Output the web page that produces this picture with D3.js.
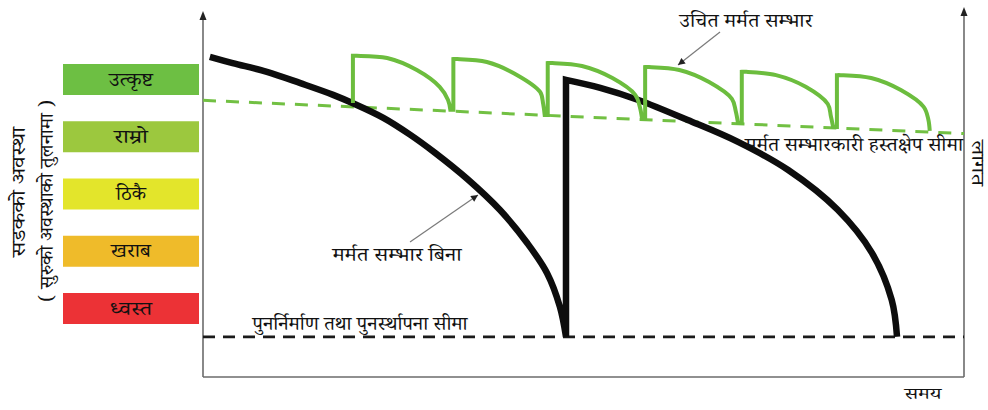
<!DOCTYPE html>
<html>
<head>
<meta charset="utf-8">
<script src="https://cdn.jsdelivr.net/npm/d3@7"></script>
<style>
  html, body { margin: 0; padding: 0; background: #ffffff; }
  svg { display: block; font-family: "Noto Serif Devanagari", "Noto Sans Devanagari", "Lohit Devanagari", "FreeSerif", "Noto Sans", sans-serif; }
</style>
</head>
<body>
<div id="grafica"></div>
<script>
// condition levels (legend), top to bottom
const niveles = ["उत्कृष्ट", "राम्रो", "ठिकै", "खराब", "ध्वस्त"];
const coloresNivel = ["#6dbf43", "#9cc83e", "#e3e52b", "#efbb2a", "#ec3236"];

// road condition without maintenance (time 0-100, condition 0-100)
const sinMantenimiento1 = [
  [0.9, 87.7], [3.9, 86.0], [8.4, 83.6], [12.8, 80.5], [17.1, 77.3], [19.7, 75.0],
  [23.7, 71.0], [27.2, 66.4], [30.5, 61.4], [34.7, 54.3], [39.0, 45.8], [42.6, 36.7],
  [45.2, 28.5], [46.9, 19.2], [47.7, 11.0]
];
// after reconstruction
const sinMantenimiento2 = [
  [47.7, 81.4], [52.2, 79.2], [57.2, 75.9], [63.7, 70.4], [70.3, 64.4], [76.9, 56.7],
  [83.4, 45.8], [87.9, 34.0], [90.5, 21.1], [91.2, 11.0]
];

// proper maintenance: each tooth = [start base, top, ... decay ... end]
const conMantenimiento = [
  [[19.7, 75.1], [19.7, 88.0], [20.2, 88.0], [24.2, 87.4], [28.1, 84.1], [31.1, 79.5], [32.2, 75.9], [32.5, 73.2]],
  [[32.9, 73.2], [32.9, 87.1], [33.4, 87.1], [37.3, 86.3], [41.3, 82.7], [44.3, 78.1], [44.7, 74.8], [44.9, 71.8]],
  [[45.3, 71.8], [45.3, 86.0], [45.9, 86.0], [49.8, 85.2], [53.8, 81.9], [56.8, 77.3], [57.4, 74.0], [57.7, 70.7]],
  [[58.1, 70.7], [58.1, 84.9], [58.6, 84.9], [62.6, 84.1], [66.5, 80.8], [69.5, 76.2], [70.0, 72.9], [70.3, 69.6]],
  [[70.8, 69.6], [70.8, 83.6], [71.4, 83.6], [75.3, 82.7], [79.2, 79.5], [82.1, 74.8], [82.5, 71.5], [82.8, 68.5]],
  [[83.3, 68.5], [83.3, 82.7], [83.8, 82.7], [87.8, 81.9], [91.7, 78.6], [94.7, 74.0], [95.3, 70.7], [95.5, 67.4]]
];

// thresholds
const limiteMantenimiento = [[0, 75.8], [100, 66.7]];
const limiteReconstruccion = [[0, 11.0], [100, 11.0]];

const W = 988, H = 410;
const svg = d3.select("#grafica").append("svg")
  .attr("width", W).attr("height", H);

const x = d3.scaleLinear().domain([0, 100]).range([203, 964]);
const y = d3.scaleLinear().domain([0, 100]).range([377, 12]);

// arrow marker for the notes
svg.append("defs").append("marker").attr("id", "flechaNota")
  .attr("viewBox", "0 0 10 10").attr("refX", 10).attr("refY", 5)
  .attr("markerWidth", 9).attr("markerHeight", 7).attr("orient", "auto")
  .attr("markerUnits", "userSpaceOnUse")
  .append("path").attr("d", "M0,0 L10,5 L0,10 Z").attr("fill", "#222");

// axes (plain lines, no ticks) with arrow heads
const ejes = svg.append("g").attr("stroke", "#6b6b6b").attr("stroke-width", 1.6).attr("fill", "none");
ejes.append("path").attr("d", `M${x(0)},${y(0)} L${x(100)},${y(0)}`);
ejes.append("line").attr("x1", x(0)).attr("y1", y(0)).attr("x2", x(0)).attr("y2", 16);
ejes.append("line").attr("x1", x(100)).attr("y1", y(0)).attr("x2", x(100)).attr("y2", 11);
svg.append("path").attr("d", `M${x(0) - 3.5},${20} L${x(0)},${11} L${x(0) + 3.5},${20} Z`).attr("fill", "#222");
svg.append("path").attr("d", `M${x(100) - 3.5},${16} L${x(100)},${7} L${x(100) + 3.5},${16} Z`).attr("fill", "#222");

const linea = d3.line().x(d => x(d[0])).y(d => y(d[1]));

// threshold lines
svg.append("path").datum(limiteReconstruccion)
  .attr("d", linea).attr("fill", "none")
  .attr("stroke", "#1a1a1a").attr("stroke-width", 2.8).attr("stroke-dasharray", "12,8");
svg.append("path").datum(limiteMantenimiento)
  .attr("d", linea).attr("fill", "none")
  .attr("stroke", "#72c043").attr("stroke-width", 3).attr("stroke-dasharray", "13,10");

// black curve: decay, reconstruction jump, decay
const curva = d3.line().x(d => x(d[0])).y(d => y(d[1])).curve(d3.curveCatmullRom.alpha(0.5));
const trazoNegro = curva(sinMantenimiento1)
  + `L${x(sinMantenimiento2[0][0])},${y(sinMantenimiento2[0][1])}`
  + curva(sinMantenimiento2).replace(/^M/, "L");
svg.append("path").attr("d", trazoNegro).attr("fill", "none")
  .attr("stroke", "#0d0d0d").attr("stroke-width", 6.5).attr("stroke-linejoin", "miter");

// green sawtooth
let trazoVerde = "";
conMantenimiento.forEach((diente, i) => {
  const base = diente[0], tope = diente[1];
  trazoVerde += (i === 0 ? "M" : "L") + `${x(base[0])},${y(base[1])}`
    + `L${x(tope[0])},${y(tope[1])}`
    + curva(diente.slice(1)).replace(/^M/, "L");
});
svg.append("path").attr("d", trazoVerde).attr("fill", "none")
  .attr("stroke", "#6cbd3e").attr("stroke-width", 4).attr("stroke-linejoin", "miter");

// legend boxes
const yLeyenda = d3.scalePoint().domain(niveles).range([79.5, 308.5]);
const anchoTexto = [44, 34, 30, 40, 42];
const leyenda = svg.append("g");
leyenda.selectAll("rect").data(niveles).enter().append("rect")
  .attr("x", 63).attr("width", 136)
  .attr("y", d => yLeyenda(d) - 15.5).attr("height", 31)
  .attr("fill", (d, i) => coloresNivel[i]);
leyenda.selectAll("text").data(niveles).enter().append("text")
  .attr("x", 131).attr("y", d => yLeyenda(d) + 6)
  .attr("text-anchor", "middle").attr("font-size", 19).attr("fill", "#111")
  .attr("textLength", (d, i) => anchoTexto[i]).attr("lengthAdjust", "spacingAndGlyphs")
  .text(d => d);

// helper for fitted labels
function etiqueta(g, txt, ancho, tam) {
  return g.append("text").attr("text-anchor", "middle").attr("font-size", tam).attr("fill", "#111")
    .attr("textLength", ancho).attr("lengthAdjust", "spacingAndGlyphs").text(txt);
}

// axis titles
etiqueta(svg, "सडकको अवस्था", 130, 19).attr("transform", "translate(25,192) rotate(-90)");
etiqueta(svg, "( सुरुको अवस्थाको तुलनामा )", 202, 19).attr("transform", "translate(53,201) rotate(-90)");
etiqueta(svg, "समय", 37, 16).attr("x", 923).attr("y", 399);
etiqueta(svg, "लागत", 46, 18).attr("transform", "translate(972,163) rotate(90)");

// annotations
etiqueta(svg, "उचित मर्मत सम्भार", 133, 19).attr("x", 746).attr("y", 27);
etiqueta(svg, "मर्मत सम्भार बिना", 129, 19).attr("x", 397).attr("y", 261);
etiqueta(svg, "पुनर्निर्माण तथा पुनर्स्थापना सीमा", 215, 19).attr("x", 360).attr("y", 330);
etiqueta(svg, "मर्मत सम्भारकारी हस्तक्षेप सीमा", 218, 19).attr("x", 854).attr("y", 151);

const flechas = svg.append("g").attr("stroke", "#7a7a7a").attr("stroke-width", 1.2);
flechas.append("line").attr("x1", 720).attr("y1", 32).attr("x2", 678).attr("y2", 65)
  .attr("marker-end", "url(#flechaNota)");
flechas.append("line").attr("x1", 410).attr("y1", 242).attr("x2", 478).attr("y2", 195)
  .attr("marker-end", "url(#flechaNota)");
</script>
</body>
</html>
